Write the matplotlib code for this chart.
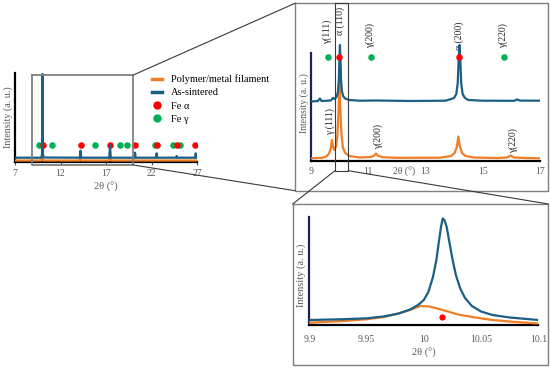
import matplotlib
matplotlib.use("Agg")
import matplotlib.pyplot as plt
from matplotlib.lines import Line2D

plt.rcParams['font.family'] = ['Liberation Serif', 'DejaVu Serif']
plt.rcParams['mathtext.fontset'] = 'stix'

# ---------------- data ----------------
ORANGE = '#F07E26'
BLUE = '#1B5E86'
RED = '#FF0000'
GREEN = '#00B050'
NAVY = '#1C2452'

series_names = ['Polymer/metal filament', 'As-sintered']
marker_names = ['Fe α', 'Fe γ']

# Overview panel (2θ 7-27)
ov_blue_x = [7.0, 9.9, 9.97, 10.02, 10.07, 10.15, 14.12, 14.2, 14.28, 17.36, 17.44, 17.52,
             20.12, 20.19, 20.26, 22.5, 22.57, 22.64, 24.7, 24.77, 24.84, 26.79, 26.86, 26.93, 27.0]
ov_blue_y = [4.3, 4.3, 8, 88, 8, 4.5, 4.3, 11.3, 4.3, 4.3, 17, 4.3,
             4.3, 9.3, 4.3, 4.3, 8.7, 4.3, 4.3, 6, 4.3, 4.3, 8.7, 4.3, 4.3]
ov_orange_x = [7.0, 9.85, 10.0, 10.15, 14.05, 14.18, 14.3, 17.3, 17.44, 17.58, 27.0]
ov_orange_y = [1.5, 1.5, 3.5, 1.5, 1.5, 3.0, 1.5, 1.5, 3.5, 1.5, 1.5]
ov_alpha_x = [10.04, 14.2, 17.44, 20.15, 22.57, 24.77, 26.8]
ov_gamma_x = [9.64, 11.1, 15.8, 18.54, 19.34, 22.38, 24.4, 25.13]
ov_marker_y = 17.3
ov_ticks = [7, 12, 17, 22, 27]

# Middle panel (2θ 9-17)
mid_blue_x = [9.00, 9.25, 9.32, 9.38, 9.70, 9.78, 9.84, 9.90, 9.95, 9.98, 10.00, 10.02, 10.04,
              10.06, 10.09, 10.13, 10.20, 10.35, 10.70, 11.30, 12.50, 13.70, 13.90, 14.00, 14.08,
              14.13, 14.16, 14.19, 14.22, 14.25, 14.30, 14.38, 14.50, 15.00, 16.10, 16.20, 16.30, 17.00]
mid_blue_y = [59.5, 60, 62.5, 60, 60.5, 63, 62, 64, 69, 80, 100, 116, 100,
              80, 70, 65, 62.5, 61, 60.3, 60.5, 60, 60.3, 62, 63, 67,
              78, 100, 116, 100, 78, 67, 63, 61, 60.3, 60.2, 61.5, 60.4, 60.3]
mid_orange_x = [9.00, 9.40, 9.55, 9.65, 9.70, 9.74, 9.78, 9.82, 9.88, 9.93, 9.97, 10.00, 10.03,
                10.07, 10.12, 10.20, 10.35, 10.70, 11.10, 11.22, 11.28, 11.34, 11.50, 12.00,
                13.50, 13.90, 14.02, 14.10, 14.15, 14.20, 14.28, 14.40, 14.70, 15.50, 15.85,
                15.98, 16.10, 16.50, 17.00]
mid_orange_y = [2.7, 3.2, 4.5, 8, 13, 21, 14, 11, 14, 25, 50, 80, 55,
                28, 14, 8, 5, 3.5, 4, 5.5, 7.5, 5.5, 3.8, 3.2,
                3.3, 5, 8, 14, 24.5, 15, 8, 5, 3.5, 3, 3.5,
                5.5, 3.5, 3, 2.7]
mid_alpha_x = [10.0, 14.18]
mid_gamma_x = [9.61, 11.1, 15.74]
mid_marker_y = 104.3
mid_ticks = [9, 11, 13, 15, 17]
mid_labels_top = ['γ(111)', 'α (110)', 'γ(200)', 'α (200)', 'γ(220)']
mid_labels_top_x = [9.56, 10.02, 11.09, 14.18, 15.72]
mid_labels_bot = ['γ (111)', 'γ(200)', 'γ(220)']
mid_labels_bot_x = [9.67, 11.34, 16.07]

# Zoom panel (2θ 9.9-10.1)
zm_blue_x = [9.900, 9.930, 9.950, 9.965, 9.978, 9.988, 9.995, 10.000, 10.004, 10.008, 10.011,
             10.013, 10.015, 10.0165, 10.018, 10.020, 10.022, 10.025, 10.028, 10.032, 10.036,
             10.042, 10.050, 10.060, 10.075, 10.090, 10.100]
zm_blue_y = [5, 5.8, 6.7, 8.5, 11.5, 15.5, 20, 25, 33, 48, 65,
             82, 98, 106.5, 105, 98, 85, 66, 50, 36, 27,
             19, 13.5, 10, 7.5, 6, 5]
zm_orange_x = [9.900, 9.930, 9.950, 9.965, 9.978, 9.988, 9.997, 10.005, 10.015, 10.030,
               10.045, 10.060, 10.080, 10.100]
zm_orange_y = [2.3, 4, 5.7, 8, 11.5, 15, 19, 18.5, 15.5, 10.5, 7.5, 5, 3, 1.5]
zm_alpha_x = [10.0156]
zm_alpha_y = [7.7]
zm_ticks = [9.9, 9.95, 10.0, 10.05, 10.1]
zm_ticklabels = ['9.9', '9.95', '10', '10.05', '10.1']

W, H = 550, 368
fig = plt.figure(figsize=(W / 100, H / 100), dpi=100)


def px_axes(x0, y_top, x1, y_bot):
    return fig.add_axes([x0 / W, 1 - y_bot / H, (x1 - x0) / W, (y_bot - y_top) / H])


TICKC = '#595959'


def style(ax, left_color, tick_len, fs=7):
    for s in ['top', 'right']:
        ax.spines[s].set_visible(False)
    ax.spines['left'].set_color(left_color)
    ax.spines['left'].set_linewidth(1.6)
    ax.spines['bottom'].set_color('black')
    ax.spines['bottom'].set_linewidth(1.6)
    ax.set_yticks([])
    ax.tick_params(axis='x', length=tick_len, width=0.8, color=TICKC, labelcolor=TICKC,
                   labelsize=fs, pad=4.0)
    ax.set_facecolor('none')


# ---- overview ----
ax1 = px_axes(15, 73, 197, 162)
ax1.set_xlim(7, 27)
ax1.set_ylim(0, 89)
ax1.scatter(ov_gamma_x, [ov_marker_y] * len(ov_gamma_x), s=22, color=GREEN, zorder=2, linewidths=0)
ax1.scatter(ov_alpha_x, [ov_marker_y] * len(ov_alpha_x), s=22, color=RED, zorder=2, linewidths=0)
ax1.plot(ov_orange_x, ov_orange_y, color=ORANGE, lw=1.6, zorder=3)
ax1.plot(ov_blue_x, ov_blue_y, color=BLUE, lw=1.6, zorder=4)
style(ax1, 'black', 2.5)
ax1.set_xticks(ov_ticks)
ax1.tick_params(axis='x', pad=2.5)
ax1.set_xlabel('2θ (°)', fontsize=7.5, color=TICKC, labelpad=3)
ax1.set_ylabel('Intensity (a. u.)', fontsize=7.2, color=TICKC)
ax1.yaxis.set_label_coords(-0.012, 0.5)

# legend
handles = [Line2D([], [], color=ORANGE, lw=2.5),
           Line2D([], [], color=BLUE, lw=2.5),
           Line2D([], [], color=RED, marker='o', ls='none', markersize=6, markeredgewidth=0),
           Line2D([], [], color=GREEN, marker='o', ls='none', markersize=6, markeredgewidth=0)]
fig.legend(handles, series_names + marker_names, loc='upper left',
           bbox_to_anchor=(152 / W, 1 - 74.5 / H), frameon=False, fontsize=7.5,
           handlelength=1.0, handletextpad=0.8, labelspacing=0.38, borderpad=0, borderaxespad=0)

# ---- middle ----
ax2 = px_axes(310.7, 40, 540, 161)
ax2.set_xlim(9, 17)
ax2.set_ylim(0, 121)
ax2.plot(mid_orange_x, mid_orange_y, color=ORANGE, lw=1.6, zorder=3)
ax2.plot(mid_blue_x, mid_blue_y, color=BLUE, lw=1.6, zorder=4)
ax2.scatter(mid_gamma_x, [mid_marker_y] * len(mid_gamma_x), s=22, color=GREEN, zorder=5, linewidths=0)
ax2.scatter(mid_alpha_x, [mid_marker_y] * len(mid_alpha_x), s=22, color=RED, zorder=5, linewidths=0)
style(ax2, NAVY, 0)
ax2.spines['left'].set_bounds(0, 108)
ax2.set_xticks(mid_ticks)
ax2.tick_params(axis='x', pad=4)
ax2.annotate('2θ (°)', xy=(12.25, 0), xytext=(0, -7.7), textcoords='offset points',
             ha='center', va='center', fontsize=7, color=TICKC, annotation_clip=False)
ax2.set_ylabel('Intensity (a. u.)', fontsize=7, color=TICKC)
ax2.yaxis.set_label_coords(-0.006, 0.475)
top_y = [129.5, 140, 125, 125, 125]
for lab, xx, yy in zip(mid_labels_top, mid_labels_top_x, top_y):
    ax2.text(xx, yy, lab, rotation=90, ha='center', va='center', fontsize=7, color='#262626', clip_on=False)
bot_y = [39, 24.5, 20]
for lab, xx, yy in zip(mid_labels_bot, mid_labels_bot_x, bot_y):
    ax2.text(xx, yy, lab, rotation=90, ha='center', va='center', fontsize=7, color='#262626', clip_on=False)

# ---- zoom ----
ax3 = px_axes(309.3, 217, 538.3, 325)
ax3.set_xlim(9.9, 10.1)
ax3.set_ylim(0, 108)
ax3.plot(zm_orange_x, zm_orange_y, color=ORANGE, lw=1.6, zorder=3)
ax3.plot(zm_blue_x, zm_blue_y, color=BLUE, lw=1.6, zorder=4)
ax3.scatter(zm_alpha_x, zm_alpha_y, s=20, color=RED, zorder=5, linewidths=0)
style(ax3, NAVY, 0)
ax3.set_xticks(zm_ticks)
ax3.set_xticklabels(zm_ticklabels)
ax3.tick_params(axis='x', pad=7)
ax3.set_xlabel('2θ (°)', fontsize=7.5, color=TICKC, labelpad=3)
ax3.set_ylabel('Intensity (a. u.)', fontsize=7.5, color=TICKC)
ax3.yaxis.set_label_coords(-0.014, 0.46)

# ---- overlay: frames and connector lines ----
ov = fig.add_axes([0, 0, 1, 1], zorder=10)
ov.set_xlim(0, W)
ov.set_ylim(H, 0)
ov.axis('off')
ov.patch.set_alpha(0)
GR = '#7F7F7F'
DK = '#3A3A3A'
# overview zoom rectangle
ov.plot([31.7, 133.3, 133.3, 31.7, 31.7], [75, 75, 165, 165, 75], color=GR, lw=1.3)
# middle frame
ov.plot([295, 548, 548, 295, 295], [3.3, 3.3, 190.7, 190.7, 3.3], color=GR, lw=1.0)
# bottom frame
ov.plot([292.7, 548.3, 548.3, 292.7, 292.7], [204, 204, 365, 365, 204], color=GR, lw=1.0)
# narrow rectangle
ov.plot([335, 348.3, 348.3, 335, 335], [3.3, 3.3, 170.7, 170.7, 3.3], color=DK, lw=0.8)
# connectors
ov.plot([133.3, 295], [75, 3.3], color=DK, lw=0.8)
ov.plot([133.3, 295], [165, 190.7], color=DK, lw=0.8)
ov.plot([335, 292.7], [170.7, 204], color=DK, lw=0.8)
ov.plot([348.3, 548.3], [170.7, 204], color=DK, lw=0.8)

fig.savefig('out.png', dpi=100)
